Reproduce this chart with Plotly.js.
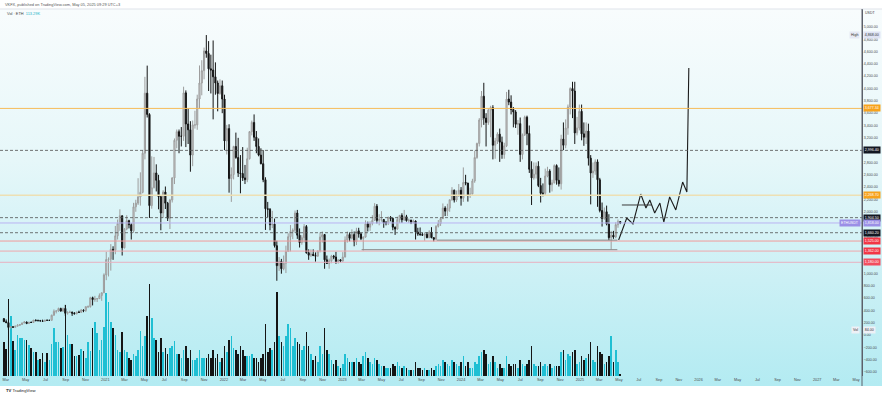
<!DOCTYPE html>
<html><head><meta charset="utf-8">
<script src="https://cdn.plot.ly/plotly-3.0.1.min.js"></script>
<style>
html,body{margin:0;padding:0;background:#fff;}
#wrap{position:relative;width:882px;height:395px;overflow:hidden;background:#fff;}
#bg{position:absolute;left:0;top:9px;width:882px;height:377px;background:linear-gradient(to bottom,#f8fcfd 0%,#e6f7f9 40%,#cbf0f5 72%,#b3ebf2 100%);}
#chart{position:absolute;left:0;top:0;width:882px;height:395px;}
</style></head><body>
<div id="wrap"><div id="bg"></div><div id="chart"></div></div>
<script>
// ===== DATA: ETHUSDT weekly candles, week of 2020-02-24 .. 2025-05-05 =====
const firstWeek = '2020-02-24';
const open = [
 265,217,200,123,133,125,143,158,170,196,211,187,207,203,241,232,232,228,223,240,238,238,321,385,390,430,388,430,353,365,370,355,344,370,367,405,396,460,460,605,575,585,590,640,685,
 975,1225,1230,1390,1375,1610,1810,1935,1415,1720,1855,1790,1690,2080,2140,2240,2315,2950,3925,3580,2100,2390,2630,2510,2245,1980,2320,2140,1895,2190,2550,3160,3300,3225,3225,3930,3425,3330,2920,3410,3410,3830,4090,4290,4610,4570,4320,4300,4190,4090,3920,4045,
 3830,3150,3350,2540,2605,3060,2880,2630,2620,2550,2520,2860,3300,3450,3210,3060,2920,2780,2520,2050,2040,1790,1800,1450,1125,1195,1075,1165,1355,1595,1680,1700,1980,1620,1500,1580,1760,1335,1295,1310,1290,1280,1365,1590,1630,1220,1160,1205,1280,1265,1190,1220,
 1200,1265,1540,1630,1570,1630,1515,1690,1640,1565,1590,1805,1750,1810,1860,2090,1860,1875,1875,1820,1820,1910,1890,1750,1720,1875,1940,1870,1920,1855,1865,1830,1850,1670,1640,1630,1620,1635,1580,1670,1580,1555,1765,1810,1890,2060,2010,2060,2195,2350,2190,2270,
 2350,2220,2475,2465,2265,2290,2500,2880,3110,3490,3875,3520,3450,3650,3690,3080,3150,3260,3130,2930,3070,3830,3780,3660,3620,3420,3430,2930,3250,3535,3270,2690,2550,2610,2740,2425,2300,2300,2580,2660,2440,2470,2750,2510,2455,3180,3080,3360,3700,4000,3960,3280,3360,
 3630,3265,3210,3310,2870,2630,2660,2810,2520,2020,1890,2000,1800,1580,1620,1590,1790,1840
];
const high = [
 276,252,208,140,144,150,176,175,199,227,218,214,216,245,253,250,245,249,245,248,244,330,415,400,445,443,445,489,385,395,380,370,380,395,420,415,465,480,620,622,635,592,675,690,1000,
 1350,1260,1475,1440,1770,1875,2040,1940,1735,1945,1870,1812,2145,2195,2545,2640,3000,4190,4372,3600,2900,2890,2770,2600,2260,2350,2410,2160,2210,2560,3190,3335,3335,3375,4030,3970,3680,3470,3480,3640,3900,4375,4460,4665,4868,4770,4550,4780,4425,4130,4150,4130,
 3900,3410,3420,2720,3070,3285,3200,2920,3050,2760,3040,3310,3480,3580,3310,3190,3030,3000,2560,2160,2060,2015,1890,1530,1265,1235,1290,1450,1650,1785,1730,2020,2030,1730,1620,1800,1785,1390,1390,1390,1340,1370,1665,1680,1640,1290,1240,1300,1300,1350,1225,1230,
 1345,1600,1680,1665,1715,1680,1740,1740,1660,1600,1860,1840,1845,1945,2140,2125,1960,2010,1880,1850,1920,1930,1905,1760,1920,1950,1975,2030,1950,1890,1870,1875,1860,1740,1745,1660,1665,1670,1700,1750,1590,1780,1865,1900,2135,2090,2130,2200,2400,2360,2345,2450,
 2400,2720,2600,2470,2390,2535,2990,3120,3520,3960,4093,3600,3680,3720,3730,3200,3290,3350,3220,3120,3945,3980,3890,3700,3650,3490,3530,3270,3560,3560,3400,2820,2800,2800,2820,2550,2460,2700,2730,2690,2520,2770,2770,2720,3250,3450,3500,3740,4020,4110,4110,3540,3740,
 3740,3450,3450,3430,2920,2800,2850,2850,2550,2150,2070,2100,1960,1690,1690,1830,1875,1850
];
const low = [
 210,195,86,102,122,122,142,145,165,190,176,178,196,197,226,226,222,218,220,235,230,236,312,350,375,380,375,311,330,358,310,335,336,360,363,370,375,437,445,480,540,535,585,555,680,
 890,950,1045,1220,1310,1550,1690,1290,1405,1700,1730,1550,1660,2000,2110,2100,2300,2850,3530,1900,2050,2380,2330,2040,1700,1900,2045,1850,1720,2150,2450,3030,2950,3060,3150,3050,3100,2650,2740,3350,3330,3670,3890,4150,4500,3960,3920,3500,3900,3630,3900,3600,
 3000,2930,2310,2160,2525,2860,2565,2300,2500,2450,2480,2850,3240,3150,2950,2900,2770,2480,1705,1910,1700,1735,1420,880,1040,995,1050,1005,1350,1355,1555,1655,1560,1420,1465,1500,1320,1220,1265,1280,1190,1270,1340,1500,1075,1155,1075,1165,1230,1155,1160,1180,
 1190,1260,1500,1520,1550,1440,1460,1580,1540,1370,1580,1680,1690,1780,1850,1810,1780,1840,1740,1780,1785,1845,1700,1625,1710,1815,1820,1850,1840,1820,1800,1810,1550,1610,1610,1610,1530,1570,1570,1570,1520,1545,1745,1770,1880,1930,1930,2000,2180,2150,2160,2240,
 2100,2160,2430,2165,2225,2280,2470,2860,3060,3370,3410,3060,3410,3210,2850,2860,3100,2810,2860,2860,3050,3730,3580,3370,3360,3250,2810,2850,3230,3080,2630,2110,2520,2540,2400,2150,2250,2260,2560,2310,2330,2460,2440,2410,2360,3000,3030,3250,3580,3520,3100,3240,3320,
 3160,3070,3100,2750,2120,2550,2600,2080,1990,1760,1870,1780,1540,1385,1560,1570,1740,1800
];
const close = [
 217,200,123,133,125,143,158,170,196,211,187,207,203,241,232,232,228,223,240,238,238,321,385,390,430,388,430,353,365,370,355,344,370,367,405,396,460,460,605,575,585,590,640,685,975,
 1225,1230,1390,1375,1610,1810,1935,1415,1720,1855,1790,1690,2080,2140,2240,2315,2950,3925,3580,2100,2390,2630,2510,2245,1980,2320,2140,1895,2190,2550,3160,3300,3225,3225,3930,3425,3330,2920,3410,3410,3830,4090,4290,4610,4570,4320,4300,4190,4090,3920,4045,3830,
 3150,3350,2540,2605,3060,2880,2630,2620,2550,2520,2860,3300,3450,3210,3060,2920,2780,2520,2050,2040,1790,1800,1450,1125,1195,1075,1165,1355,1595,1680,1700,1980,1620,1500,1580,1760,1335,1295,1310,1290,1280,1365,1590,1630,1220,1160,1205,1280,1265,1190,1220,1200,
 1265,1540,1630,1570,1630,1515,1690,1640,1565,1590,1805,1750,1810,1860,2090,1860,1875,1875,1820,1820,1910,1890,1750,1720,1875,1940,1870,1920,1855,1865,1830,1850,1670,1640,1630,1620,1635,1580,1670,1580,1555,1765,1810,1890,2060,2010,2060,2195,2350,2190,2270,2350,
 2220,2475,2465,2265,2290,2500,2880,3110,3490,3875,3520,3450,3650,3690,3080,3150,3260,3130,2930,3070,3830,3780,3660,3620,3420,3430,2930,3250,3535,3270,2690,2550,2610,2740,2425,2300,2300,2580,2660,2440,2470,2750,2510,2455,3180,3080,3360,3700,4000,3960,3280,3360,3630,
 3265,3210,3310,2870,2630,2660,2810,2520,2020,1890,2000,1800,1580,1620,1590,1790,1840,1818
];
// weekly volume (relative units)
const volume = [
 34,27,77,60,35,26,41,38,38,36,36,31,28,24,24,16,17,23,14,23,16,32,48,34,34,28,29,71,41,32,32,20,20,21,27,25,18,34,25,48,54,43,26,36,49,
 83,74,54,48,41,26,24,44,26,24,18,16,22,20,26,45,30,40,60,92,58,38,36,24,38,24,28,22,28,30,35,22,22,18,26,30,18,26,16,16,18,26,18,18,18,22,18,26,18,22,14,18,
 30,24,36,40,28,26,22,30,26,20,20,20,22,18,18,14,18,22,52,24,28,26,34,84,40,34,30,40,52,48,30,38,34,32,26,30,44,30,22,16,20,14,30,22,48,26,22,16,12,16,10,8,
 12,22,18,14,14,14,18,14,12,20,24,18,14,12,18,16,12,10,10,8,8,8,12,10,14,10,8,10,8,6,6,6,14,8,8,6,8,6,6,8,6,10,12,10,16,14,12,10,16,14,12,10,
 14,20,10,14,8,8,14,12,20,24,26,22,12,14,20,14,8,12,8,8,20,12,10,12,12,8,16,12,10,12,16,30,12,10,10,14,10,12,10,12,8,10,10,10,24,26,16,22,20,24,26,12,14,
 20,16,18,22,34,16,14,30,24,22,12,14,20,40,14,26,14,2
];
// horizontal levels drawn on the chart
const levelPrices = [3677.34, 2996.40, 2268.70, 1904.50, 1818.00, 1660.20, 1525.00, 1362.00, 1180.00];
const athPrice = 4868.00;
// projected path drawn after the last candle
const projDates  = ['2025-04-30','2025-05-25','2025-06-13','2025-07-07','2025-07-23','2025-08-04','2025-08-19','2025-09-04','2025-09-16','2025-10-04','2025-10-23','2025-11-13','2025-11-26','2025-12-02'];
const projPrices = [1542,1899,1802,2288,2061,2191,1980,2142,1834,2240,2029,2483,2321,4333];
// range segments
const segStart  = ['2023-03-01','2023-10-18','2025-05-10'];
const segEnd    = ['2025-04-26','2025-04-26','2025-08-10'];
const segPrices = [1385, 1540, 2110];
const yTicks = [-600,-400,-200,0,200,400,600,800,1000,1600,2000,2200,2400,2600,2800,3200,3400,3600,3800,4000,4200,4400,4600,4800,5000];

// ===== build =====
const DAY = 864e5;
const t0 = Date.parse(firstWeek + 'T00:00:00Z');
const dates = open.map((_, i) => new Date(t0 + i * 7 * DAY).toISOString().slice(0, 10));
const volColors = open.map((o, i) => close[i] >= o ? '#1fbfd3' : '#151515');

const monthNames = ['Jan','Feb','Mar','Apr','May','Jun','Jul','Aug','Sep','Oct','Nov','Dec'];
const xTickVals = [], xTickText = [];
for (let y = 2020; y <= 2027; y++) {
  for (let m = 0; m < 12; m += 2) {
    const d = y + '-' + String(m + 1).padStart(2, '0') + '-01';
    if (d < '2020-02-12' || d > '2027-05-19') continue;
    xTickVals.push(d);
    xTickText.push(m === 0 ? String(y) : monthNames[m]);
  }
}

const fmt = v => v.toLocaleString('en-US', {minimumFractionDigits: 2, maximumFractionDigits: 2});
const PH = 367, PW = 862;
const py = p => (376 - p) / PH;
const px = p => p / PW;

const traces = [
  {type: 'bar', x: dates, y: volume, yaxis: 'y', marker: {color: volColors, line: {width: 0}},
   width: 7 * DAY * 0.7, hoverinfo: 'skip', showlegend: false},
  {type: 'candlestick', x: dates, open: open, high: high, low: low, close: close, yaxis: 'y2',
   increasing: {line: {color: '#9d9d9d', width: 1}, fillcolor: '#d2d2d2'},
   decreasing: {line: {color: '#141414', width: 1}, fillcolor: '#141414'},
   whiskerwidth: 0, hoverinfo: 'skip', showlegend: false},
  {type: 'scatter', mode: 'lines', x: projDates, y: projPrices, yaxis: 'y2',
   line: {color: '#1b1b1b', width: 1.1}, hoverinfo: 'skip', showlegend: false}
];

const levelStyle = [
  {c: '#f6bb5a', w: 1, d: 'solid', bg: '#f7a21b', fc: '#ffffff'},
  {c: '#505050', w: 0.8, d: '3px,2px', bg: '#131722', fc: '#ffffff'},
  {c: '#ede0b4', w: 1.6, d: 'solid', bg: '#f7a21b', fc: '#ffffff'},
  {c: '#505050', w: 0.8, d: '3px,2px', bg: '#131722', fc: '#ffffff'},
  {c: '#b9b3f2', w: 1, d: 'solid', bg: '#9b8fe6', fc: '#ffffff'},
  {c: '#505050', w: 0.8, d: '3px,2px', bg: '#131722', fc: '#ffffff'},
  {c: '#f29a9a', w: 1, d: 'solid', bg: '#f23645', fc: '#ffffff'},
  {c: '#efa7ad', w: 1, d: 'solid', bg: '#f23645', fc: '#ffffff'},
  {c: '#e9b0c0', w: 1, d: 'solid', bg: '#f24d5e', fc: '#ffffff'}
];

const shapes = [];
levelPrices.forEach((v, i) => {
  const s = levelStyle[i];
  shapes.push({type: 'line', xref: 'paper', x0: 0, x1: 1, yref: 'y2', y0: v, y1: v,
    line: {color: s.c, width: s.w, dash: s.d}});
});
segPrices.forEach((v, i) => {
  shapes.push({type: 'line', xref: 'x', x0: segStart[i], x1: segEnd[i], yref: 'y2', y0: v, y1: v,
    line: {color: i === 2 ? '#3a3a3a' : '#8a8a8a', width: 1}});
});
// pane top border and axis line extension
shapes.push({type: 'line', xref: 'paper', x0: 0, x1: 882 / PW, yref: 'paper', y0: 1, y1: 1, line: {color: '#dfe3ea', width: 1}});
shapes.push({type: 'line', xref: 'paper', x0: 1, x1: 1, yref: 'paper', y0: py(386), y1: 1, line: {color: '#5d606b', width: 1}});

const annotations = [];
const lblFont = (c) => ({family: 'Liberation Sans, Arial, sans-serif', size: 3.6, color: c});
levelPrices.forEach((v, i) => {
  const s = levelStyle[i];
  annotations.push({xref: 'paper', x: 1, xanchor: 'left', xshift: 1, yref: 'y2', y: v, yanchor: 'middle',
    text: fmt(v), showarrow: false, bgcolor: s.bg, borderpad: 0.8, font: lblFont(s.fc)});
});
annotations.push({xref: 'paper', x: 1, xanchor: 'right', xshift: -1, yref: 'y2', y: levelPrices[4], yanchor: 'middle',
  text: 'ETHUSDT', showarrow: false, bgcolor: '#9b8fe6', borderpad: 1, font: lblFont('#ffffff')});
annotations.push({xref: 'paper', x: 1, xanchor: 'left', xshift: 1, yref: 'y2', y: athPrice, yanchor: 'middle',
  text: fmt(athPrice), showarrow: false, bgcolor: '#dfe3f4', borderpad: 0.8, font: lblFont('#333')});
annotations.push({xref: 'paper', x: 1, xanchor: 'right', xshift: -2, yref: 'y2', y: athPrice, yanchor: 'middle',
  text: 'High', showarrow: false, bgcolor: '#e6e9f4', borderpad: 1, font: lblFont('#333')});
annotations.push({xref: 'paper', x: 1, xanchor: 'right', xshift: -2, yref: 'y2', y: 84, yanchor: 'middle',
  text: 'Vol', showarrow: false, bgcolor: '#eef0f6', borderpad: 1, font: lblFont('#333')});
annotations.push({xref: 'paper', x: 1, xanchor: 'left', xshift: 1, yref: 'y2', y: 84, yanchor: 'middle',
  text: '84.00', showarrow: false, bgcolor: '#eef0f6', borderpad: 0.8, font: lblFont('#333')});
annotations.push({xref: 'paper', x: px(871), xanchor: 'center', yref: 'paper', y: py(13), yanchor: 'middle',
  text: 'USDT', showarrow: false, font: lblFont('#444')});
annotations.push({xref: 'paper', x: px(3), xanchor: 'left', yref: 'paper', y: py(4.5), yanchor: 'middle',
  text: 'VKFX, published on TradingView.com, May 05, 2025 09:29 UTC+3', showarrow: false,
  font: {family: 'Liberation Sans, Arial, sans-serif', size: 3.9, color: '#555'}});
annotations.push({xref: 'paper', x: px(5), xanchor: 'left', yref: 'paper', y: py(13.5), yanchor: 'middle',
  text: 'Vol · ETH  <span style="color:#1fb5ca">113.29K</span>', showarrow: false,
  font: {family: 'Liberation Sans, Arial, sans-serif', size: 3.9, color: '#444'}});
annotations.push({xref: 'paper', x: px(4), xanchor: 'left', yref: 'paper', y: py(390.5), yanchor: 'middle',
  text: '<b>TV</b> TradingView', showarrow: false,
  font: {family: 'Liberation Sans, Arial, sans-serif', size: 4.2, color: '#222'}});

const layout = {
  width: 882, height: 395,
  margin: {l: 0, r: 20, t: 9, b: 19, pad: 0},
  paper_bgcolor: 'rgba(0,0,0,0)', plot_bgcolor: 'rgba(0,0,0,0)',
  showlegend: false, bargap: 0, boxgap: 0.3,
  xaxis: {type: 'date', range: ['2020-02-12', '2027-05-19'], showgrid: false, zeroline: false,
    tickmode: 'array', tickvals: xTickVals, ticktext: xTickText, ticks: '', ticklen: 0,
    tickfont: {family: 'Liberation Sans, Arial, sans-serif', size: 3.8, color: '#4a4a4a'},
    rangeslider: {visible: false}, showline: false, fixedrange: true},
  yaxis: {range: [0, 367], visible: false, fixedrange: true},
  yaxis2: {overlaying: 'y', side: 'right', anchor: 'x', range: [-665.5, 5291],
    tickmode: 'array', tickvals: yTicks, tickformat: ',.2f', ticks: '', ticklen: 0,
    tickfont: {family: 'Liberation Sans, Arial, sans-serif', size: 3.6, color: '#4a4a4a'},
    showgrid: false, zeroline: false, showline: true, linecolor: '#5d606b', linewidth: 1, fixedrange: true},
  shapes: shapes,
  annotations: annotations
};

Plotly.newPlot('chart', traces, layout, {displayModeBar: false, staticPlot: true});
</script>
</body></html>
